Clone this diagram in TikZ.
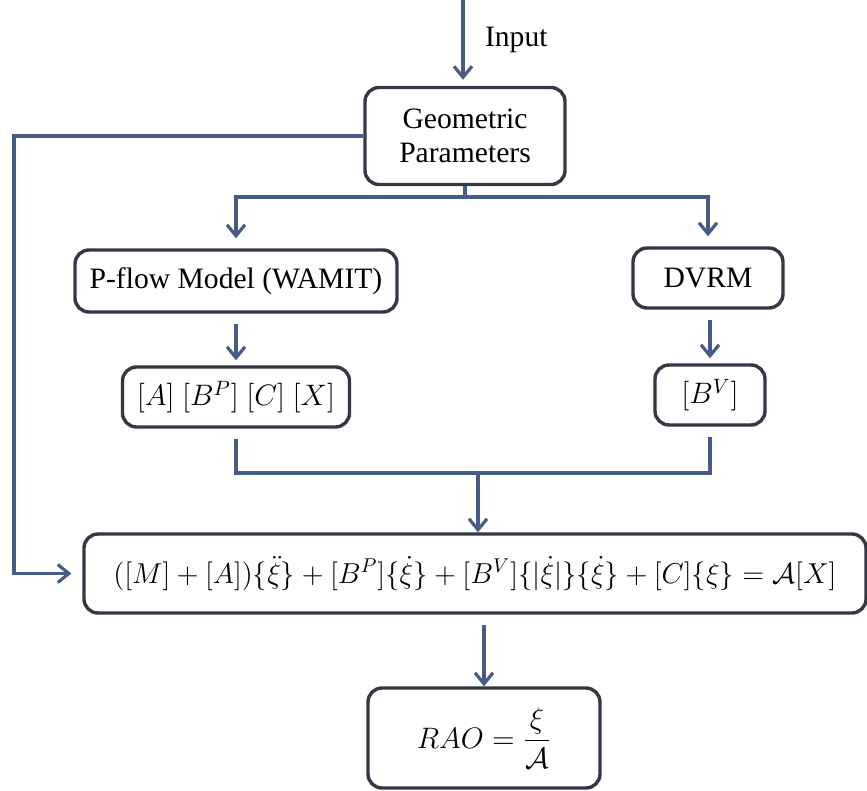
\documentclass[tikz,border=0pt]{standalone}
\usepackage{fix-cm}
\usepackage{amsmath, amssymb}
\usepackage{fontspec}
\setmainfont{Liberation Serif}
\usepackage{tikz}
\usetikzlibrary{
  arrows.meta,
  positioning,
  calc
}
\definecolor{flowline}{RGB}{70,92,134}
\definecolor{boxline}{RGB}{50,56,68}
\tikzset{>={Straight Barb[length=5.5pt,width=9pt]}}
\tikzset{font=\fontsize{14.8}{17}\selectfont}
\tikzset{block/.style={draw=boxline, line width=1.7pt, rounded corners=7pt,
    align=center, inner sep=2pt}}
\tikzset{flow/.style={draw=flowline, line width=1.6pt}}

\begin{document}
\begin{tikzpicture}[x=0.5pt, y=-0.5pt]
  \useasboundingbox (0,0) rectangle (867,791);
  % boxes
  \node[block, minimum width=100pt, minimum height=48.5pt] (geo) at (465,136) {Geometric\\Parameters};
  \node[block, minimum width=161pt, minimum height=31pt] (pflow) at (236,281) {P-flow Model (WAMIT)};
  \node[block, minimum width=75pt, minimum height=30pt] (dvrm) at (708,278) {DVRM};
  \node[block, minimum width=113.5pt, minimum height=30pt] (coef) at (236,397) {$[A]\ [B^P]\ [C]\ [X]$};
  \node[block, minimum width=55pt, minimum height=30pt] (bv) at (710,395) {$[B^V]$};
  \node[block, minimum width=391pt, minimum height=39.5pt, font=\fontsize{14.4}{17}\selectfont] (eq) at (475,573.5)
    {$([M]+[A])\{\ddot{\xi}\}+[B^P]\{\dot{\xi}\}+[B^V]\{|\dot{\xi}|\}\{\dot{\xi}\}+[C]\{\xi\}=\mathcal{A}[X]$};
  \node[block, minimum width=116pt, minimum height=50pt] (rao) at (484,738) {$RAO=\dfrac{\xi}{\mathcal{A}}$};
  % connectors
  \coordinate (input) at (463,0);
  \coordinate (split) at (465,197);
  \coordinate (fbk) at (14,139);
  \coordinate (merge) at (478,473);
  \node[right] (inlbl) at (478,40) {Input};
  \draw[flow,->,shorten >=3pt] (input) -- (input |- geo.north);
  \draw[flow] (geo.south) -- (split);
  \foreach \b in {pflow,dvrm}
    \draw[flow,->,shorten >=5pt] (split) -| (\b.north);
  \draw[flow,->,shorten >=5.5pt] (geo.west) -| (fbk |- eq.west) -- (eq.west);
  \draw[flow,->,shorten <=5pt,shorten >=2.5pt] (pflow) -- (coef);
  \draw[flow,->,shorten <=5pt,shorten >=2.5pt] (dvrm.south -| bv) -- (bv.north);
  \foreach \b in {coef,bv}
    \draw[flow,shorten <=5pt] (\b.south) |- (merge);
  \draw[flow,->] (merge) -- (merge |- eq.north);
  \draw[flow,->,shorten <=5pt] (rao.north |- eq.south) -- (rao.north);
\end{tikzpicture}
\end{document}
